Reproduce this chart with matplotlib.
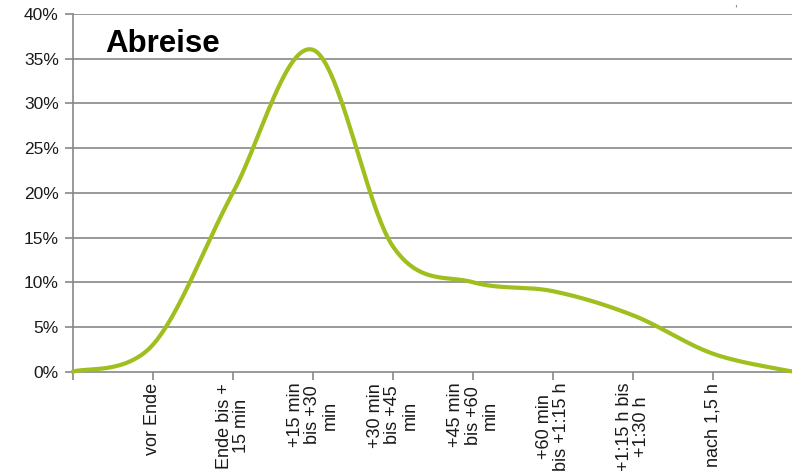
import numpy as np
import matplotlib
matplotlib.use("Agg")
import matplotlib.pyplot as plt
from matplotlib.ticker import FixedLocator, FuncFormatter

plt.rcParams['font.family'] = ['Liberation Sans', 'DejaVu Sans']

categories = ["", "vor Ende", "Ende bis +\n15 min", "+15 min\nbis +30\nmin",
              "+30 min\nbis +45\nmin", "+45 min\nbis +60\nmin", "+60 min\nbis +1:15 h",
              "+1:15 h bis\n+1:30 h", "nach 1,5 h", ""]
values = [0, 3, 20, 36, 14, 10, 9, 6.3, 2, 0]
title = "Abreise"
y_ticks = [0, 5, 10, 15, 20, 25, 30, 35, 40]

W, H = 792, 471
fig = plt.figure(figsize=(W / 100, H / 100), dpi=100)

x0, x1 = 72.7, 793.3
ytop, ybot = 14.0, 371.7
ax = fig.add_axes([x0 / W, (H - ybot) / H, (x1 - x0) / W, (ybot - ytop) / H])

x = np.arange(len(values), dtype=float)
y = np.array(values, dtype=float)

# Excel-style smoothed line (Catmull-Rom / Bezier with 1/6 tension)
px = np.concatenate([[x[0]], x, [x[-1]]])
py = np.concatenate([[y[0]], y, [y[-1]]])
xs, ys = [], []
t = np.linspace(0, 1, 40)
for i in range(1, len(px) - 2):
    p0 = np.array([px[i - 1], py[i - 1]])
    p1 = np.array([px[i], py[i]])
    p2 = np.array([px[i + 1], py[i + 1]])
    p3 = np.array([px[i + 2], py[i + 2]])
    c1 = p1 + (p2 - p0) / 6
    c2 = p2 - (p3 - p1) / 6
    b = ((1 - t) ** 3)[:, None] * p1 + (3 * (1 - t) ** 2 * t)[:, None] * c1 + \
        (3 * (1 - t) * t ** 2)[:, None] * c2 + (t ** 3)[:, None] * p2
    xs.extend(b[:, 0]); ys.extend(b[:, 1])

grid_color = '#878787'
for v in y_ticks[1:]:
    ax.axhline(v, color=grid_color, lw=1.2, zorder=1)

ax.plot(xs, ys, color='#9FBF1F', lw=3.0, solid_capstyle='round', zorder=3, clip_on=False)

ax.set_xlim(0, len(values) - 1)
ax.set_ylim(0, 40)
for s in ['top', 'right']:
    ax.spines[s].set_visible(False)
for s in ['left', 'bottom']:
    ax.spines[s].set_color(grid_color)
    ax.spines[s].set_linewidth(1.2)

ax.yaxis.set_major_locator(FixedLocator(y_ticks))
ax.yaxis.set_major_formatter(FuncFormatter(lambda v, p: f"{int(v)}%"))
ax.tick_params(axis='y', direction='out', length=6, width=1.2, color=grid_color,
               labelsize=12.5, labelcolor='#1a1a1a', pad=4)

ax.set_xticks(x[:-1])
ax.set_xticklabels(categories[:-1], rotation=90, ha='center', va='top',
                   multialignment='center', linespacing=1.05)
ax.tick_params(axis='x', direction='out', length=6, width=1.2, color=grid_color,
               labelsize=13, labelcolor='#1a1a1a', pad=2)

fig.text(105 / W, 1 - 52 / H, title, fontsize=22.5, fontweight='bold', color='#000000',
         ha='left', va='baseline')
fig.text(735 / W, 1 - 7 / H, ",", fontsize=7, color='#333333', ha='center', va='baseline')

fig.savefig("out.png", dpi=100)
